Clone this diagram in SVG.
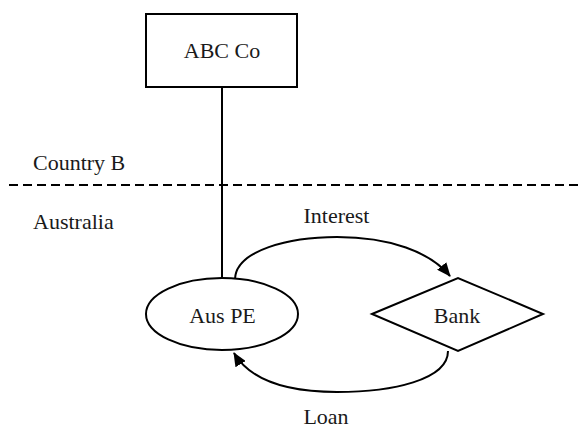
<svg xmlns="http://www.w3.org/2000/svg" width="579" height="428" viewBox="0 0 579 428">
<defs>
<marker id="arr" markerWidth="14" markerHeight="12" refX="13" refY="6" orient="auto" markerUnits="userSpaceOnUse">
<path d="M0,0 L14,6 L0,12 Z" fill="#000"/>
</marker>
</defs>
<rect width="579" height="428" fill="#fff"/>
<g id="connectors" fill="none" stroke="#000" stroke-width="2">
<line x1="222" y1="87" x2="222" y2="279"/>
<line x1="9" y1="185" x2="579" y2="185" stroke-dasharray="9,5"/>
<path d="M235,279 C236,250 290,237 337,237 C390,237 430,252 450,276" marker-end="url(#arr)"/>
<path d="M448,351 C448,380 392,392 337,392 C285,392 250,380 234,353" marker-end="url(#arr)"/>
</g>
<g id="abc">
<rect x="146" y="14" width="151" height="73" fill="#fff" stroke="#000" stroke-width="2"/>
<text x="222" y="58" font-family="Liberation Serif" font-size="22" fill="#1a1a1a" text-anchor="middle">ABC Co</text>
</g>
<g id="auspe">
<ellipse cx="222" cy="314" rx="76" ry="36" fill="#fff" stroke="#000" stroke-width="2"/>
<text x="222.5" y="323" font-family="Liberation Serif" font-size="22" fill="#1a1a1a" text-anchor="middle">Aus PE</text>
</g>
<g id="bank">
<polygon points="372,314 458,278 543,314 458,351" fill="#fff" stroke="#000" stroke-width="2"/>
<text x="457" y="323" font-family="Liberation Serif" font-size="22" fill="#1a1a1a" text-anchor="middle">Bank</text>
</g>
<g id="labels">
<text x="33" y="170" font-family="Liberation Serif" font-size="22" fill="#1a1a1a">Country B</text>
<text x="33" y="229" font-family="Liberation Serif" font-size="22" fill="#1a1a1a">Australia</text>
<text x="336.5" y="223" font-family="Liberation Serif" font-size="22" fill="#1a1a1a" text-anchor="middle">Interest</text>
<text x="326" y="424" font-family="Liberation Serif" font-size="22" fill="#1a1a1a" text-anchor="middle">Loan</text>
</g>
</svg>
